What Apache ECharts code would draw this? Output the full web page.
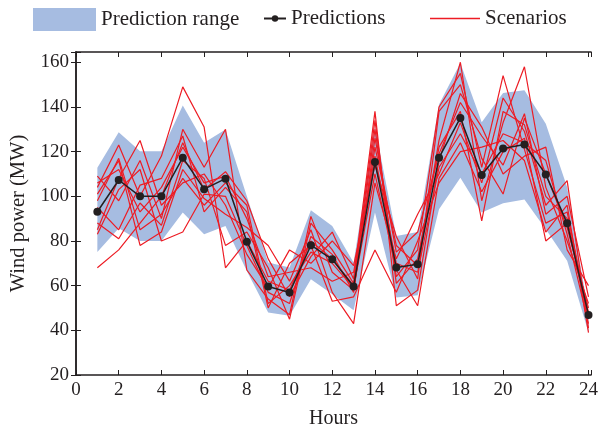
<!DOCTYPE html>
<html>
<head>
<meta charset="utf-8">
<script src="https://cdn.jsdelivr.net/npm/echarts@6/dist/echarts.min.js"></script>
<style>
html,body{margin:0;padding:0;background:#fff;}
#chart{width:601px;height:434px;}
</style>
</head>
<body>
<div id="chart"></div>
<script>
// ---- data ----
var hours = [1,2,3,4,5,6,7,8,9,10,11,12,13,14,15,16,17,18,19,20,21,22,23,24];
var predictions = [93.1,107.3,100,100,117.3,103.2,107.9,79.7,59.6,56.9,78.1,71.8,59.6,115.3,68.1,69.6,117.3,135.1,109.5,121.4,123.2,109.8,87.9,46.9];
var rangeUpper = [112.8,128.7,120.2,120.2,140.6,124,129.9,100,70.4,68.1,93.7,86.7,70.4,131,82.2,84,141.1,159.7,133.2,146.3,147.5,132.5,104,48];
var rangeLower = [75.1,85.7,80,80,92.7,83,86.7,66.6,48,46.5,62.9,56.2,49,92.7,54.7,55.7,94.2,108.3,92.7,96.9,98.6,85.2,71.1,39];
var scen1  = [104,123,100,118,149,131,68,80,62,58,80,72,60,130,64,76,140,155,113,154,121,88,93,46];
var scen2  = [109,98,116,90,130,113,130,67,54,47,91,66,58,122,78,69,125,160,98,133,158,104,80,52];
var scen3  = [68,76,88,100,124,103,111,98,72,55,73,84,63,138,51,58,116,146,131,110,118,122,76,60];
var scen4  = [101,116,78,84,112,99,92,86,78,62,85,57,43,106,72,92,110,133,106,144,129,96,107,41];
var scen5  = [85,108,125,96,106,110,96,74,59,76,70,80,69,114,82,63,138,150,117,101,135,110,86,50];
var scen6  = [95,85,105,108,127,93,104,93,50,70,78,53,55,76,57,80,106,120,122,125,116,84,96,39];
var scen7  = [88,81,97,87,116,108,78,84,68,45,88,76,61,134,61,72,122,138,89,138,132,100,90,48];
var scen8  = [106,112,93,104,122,106,109,90,64,66,68,62,66,118,70,66,113,128,110,128,124,116,83,43];
var scen9  = [83,103,112,80,84,101,100,78,57,52,82,74,57,126,75,84,119,142,127,114,137,92,100,55];
var scen10 = [98,117,85,92,108,96,106,96,52,60,75,70,59,110,67,51,108,124,102,120,126,80,88,45];
var scenarios = [scen1,scen2,scen3,scen4,scen5,scen6,scen7,scen8,scen9,scen10];
var xTicks = [0,2,4,6,8,10,12,14,16,18,20,22,24];
var yTicks = [20,40,60,80,100,120,140,160];

// ---- chart ----
var FONT = '"Liberation Serif","DejaVu Serif",serif';
var TXT = '#231f20';
var BAND = '#a6bce1';
function pairs(ys){ return hours.map(function(h,i){ return [h, ys[i]]; }); }

var series = [];
series.push({
  name: 'Prediction range', type: 'custom', coordinateSystem: 'cartesian2d',
  data: hours.map(function(h,i){ return [h, rangeLower[i], rangeUpper[i]]; }),
  encode: {x: 0, y: [1, 2]},
  itemStyle: {color: BAND}, silent: true, z: 1,
  renderItem: function(params, api){
    if (params.dataIndex !== 0) return null;
    var pts = [];
    for (var i = 0; i < hours.length; i++) pts.push(api.coord([hours[i], rangeUpper[i]]));
    for (var j = hours.length - 1; j >= 0; j--) pts.push(api.coord([hours[j], rangeLower[j]]));
    return {type: 'polygon', shape: {points: pts}, style: {fill: BAND}};
  }
});
scenarios.forEach(function(s){
  series.push({
    name: 'Scenarios', type: 'line', data: pairs(s), symbol: 'none',
    lineStyle: {color: '#ed1c24', width: 1.2}, itemStyle: {color: '#ed1c24'}, z: 3
  });
});
series.push({
  name: 'Predictions', type: 'line', data: pairs(predictions),
  symbol: 'circle', symbolSize: 8,
  lineStyle: {color: '#231f20', width: 1.5}, itemStyle: {color: '#231f20'}, z: 4
});

var yFmt = function(v){ return yTicks.indexOf(Math.round(v*1000)/1000) >= 0 ? String(v) : ''; };
var xFmt = function(v){ return xTicks.indexOf(Math.round(v*1000)/1000) >= 0 ? String(v) : ''; };
var axisLineS = {show: true, lineStyle: {color: '#231f20', width: 1.5}};
var tickS = {show: true, inside: true, length: 5, lineStyle: {color: '#231f20', width: 1}};
var legText = {fontFamily: FONT, fontSize: 21, color: TXT};

var chart = echarts.init(document.getElementById('chart'), null, {renderer: 'canvas'});
chart.setOption({
  animation: false,
  backgroundColor: '#fff',
  grid: {left: 76, right: 5, top: 52, bottom: 58},
  legend: [
    {data: ['Prediction range'], left: 33, top: 8, padding: 0, icon: 'rect', itemWidth: 63, itemHeight: 23,
     textStyle: legText},
    {data: ['Predictions'], left: 263, top: 8, padding: 0, itemWidth: 22, itemHeight: 8,
     textStyle: legText},
    {data: ['Scenarios'], left: 430, top: 8, padding: 0, icon: 'rect', itemWidth: 50, itemHeight: 1.3,
     textStyle: legText}
  ],
  xAxis: [
    {type: 'value', min: 0, max: 24.12, interval: 2, position: 'bottom',
     name: 'Hours', nameLocation: 'middle', nameGap: 34,
     nameTextStyle: {fontFamily: FONT, fontSize: 20, color: TXT},
     axisLine: axisLineS, axisTick: tickS, splitLine: {show: false},
     axisLabel: {formatter: xFmt, fontFamily: FONT, fontSize: 19, color: TXT, margin: 6}},
    {type: 'value', min: 0, max: 24.12, interval: 2, position: 'top',
     axisLine: axisLineS, axisTick: tickS, splitLine: {show: false}, axisLabel: {show: false}}
  ],
  yAxis: [
    {type: 'value', min: 20, max: 164.6, interval: 20, position: 'left',
     name: 'Wind power (MW)', nameLocation: 'middle', nameGap: 44,
     nameTextStyle: {fontFamily: FONT, fontSize: 20.5, color: TXT},
     axisLine: axisLineS, axisTick: tickS, splitLine: {show: false},
     axisLabel: {formatter: yFmt, fontFamily: FONT, fontSize: 19, color: TXT, margin: 7}},
    {type: 'value', min: 20, max: 164.6, interval: 20, position: 'right',
     axisLine: axisLineS, axisTick: tickS, splitLine: {show: false}, axisLabel: {show: false}}
  ],
  series: series
});
</script>
</body>
</html>
